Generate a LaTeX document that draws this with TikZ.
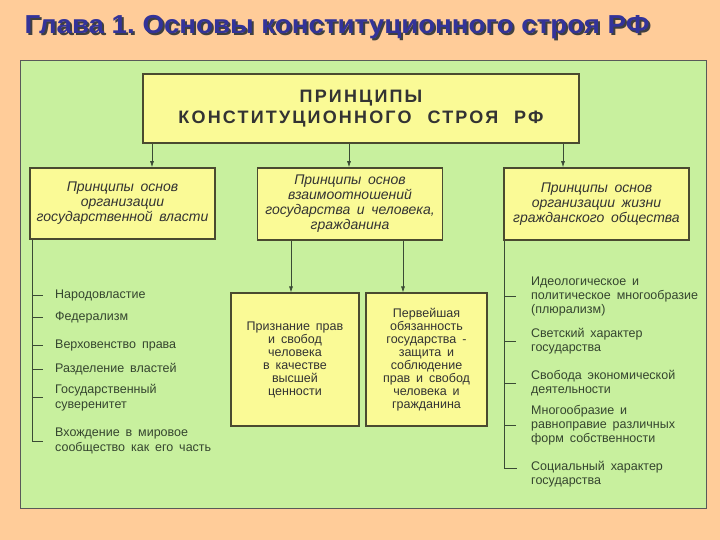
\documentclass[tikz,border=0pt]{standalone}
\usepackage{fontspec}
\setmainfont[WordSpace=1.7]{Liberation Sans}
\newfontfamily\titlefont{Liberation Sans}
\usetikzlibrary{arrows.meta}
\definecolor{peach}{HTML}{FFCC99}
\definecolor{panel}{HTML}{C8F09E}
\definecolor{boxfill}{HTML}{FAFA96}
\definecolor{boxline}{HTML}{4A4A30}
\definecolor{titleblue}{HTML}{333399}
\definecolor{txt}{HTML}{333333}
\definecolor{itemtxt}{HTML}{35452F}
\definecolor{linec}{HTML}{3A4A35}
\frenchspacing
\tikzset{
  topbox/.style={draw=boxline, fill=boxfill, line width=2.6pt, align=center, text=txt,
    font=\bfseries\fontsize{18}{21}\selectfont\addfontfeatures{LetterSpace=12}},
  midbox/.style={draw=boxline, fill=boxfill, line width=1.6pt, align=center, text=txt,
    font=\itshape\fontsize{14}{15}\selectfont},
  lowbox/.style={draw=boxline, fill=boxfill, line width=1.1pt, align=center, text=txt,
    font=\fontsize{12.5}{13}\selectfont},
  item/.style={anchor=west, align=left, text=itemtxt, inner sep=0pt,
    font=\fontsize{12.5}{14.5}\selectfont},
  ritem/.style={anchor=west, align=left, text=itemtxt, inner sep=0pt,
    font=\fontsize{12.5}{14}\selectfont},
  arr/.style={draw=linec, line width=0.7pt, -{Latex[length=6pt,width=4pt]}},
  vline/.style={draw=linec, line width=0.9pt},
  tick/.style={draw=linec, line width=0.9pt},
}
\newcommand{\titletxt}{\scalebox{1.065}[1]{\titlefont\bfseries\fontsize{26}{30}\selectfont Глава 1. Основы конституционного строя РФ}}
\begin{document}
\begin{tikzpicture}[x=1pt,y=-1pt]
\useasboundingbox (0,0) rectangle (720,540);
\fill[peach] (0,0) rectangle (720,540);
\draw[fill=panel, draw=black!65, line width=0.9pt] (20,60) rectangle (706,508);

% title
\node[anchor=base west, text=black!75, inner sep=0pt] (titleshadow) at (26.5,35.5) {\titletxt};
\node[anchor=base west, text=titleblue, inner sep=0pt] (title) at (24.5,33.5) {\titletxt};

% top box
\node[topbox, minimum width=436pt, minimum height=69pt] (top) at (361,108.5)
  {ПРИНЦИПЫ\\КОНСТИТУЦИОННОГО\hspace{16pt}СТРОЯ\hspace{16pt}РФ};

% second row
\node[midbox, minimum width=185pt, minimum height=71pt] (b1) at (122.5,203.5)
  {Принципы основ\\организации\\государственной власти};
\node[midbox, minimum width=185pt, minimum height=72pt] (b2) at (350,204)
  {Принципы основ\\взаимоотношений\\государства и человека,\\гражданина};
\node[midbox, minimum width=185pt, minimum height=72pt] (b3) at (596.5,204)
  {Принципы основ\\организации жизни\\гражданского общества};

% arrows from top
\coordinate (a1) at (152,0);
\coordinate (a2) at (349,0);
\coordinate (a3) at (563,0);
\draw[arr] (top.south -| a1) -- (b1.north -| a1);
\draw[arr] (top.south -| a2) -- (b2.north -| a2);
\draw[arr] (top.south -| a3) -- (b3.north -| a3);

% lower boxes
\node[lowbox, minimum width=128pt, minimum height=133pt] (c1) at (295,359.5)
  {Признание прав\\и свобод\\человека\\в качестве\\высшей\\ценности};
\node[lowbox, minimum width=121pt, minimum height=133pt] (c2) at (426.5,359.5)
  {Первейшая\\обязанность\\государства -\\защита и\\соблюдение\\прав и свобод\\человека и\\гражданина};
\coordinate (m1) at (291,0);
\coordinate (m2) at (403,0);
\draw[arr] (b2.south -| m1) -- (c1.north -| m1);
\draw[arr] (b2.south -| m2) -- (c2.north -| m2);

% left list
\coordinate (vl) at (32,0);
\node[item] (l1) at (55,295) {Народовластие};
\node[item] (l2) at (55,317) {Федерализм};
\node[item] (l3) at (55,345) {Верховенство права};
\node[item] (l4) at (55,369) {Разделение властей};
\node[item] (l5) at (55,397.5) {Государственный\\суверенитет};
\node[item] (l6) at (55,441) {Вхождение в мировое\\сообщество как его часть};
\draw[vline] (b1.south -| vl) |- ([xshift=-12pt]l6.west);
\foreach \n in {l1,l2,l3,l4,l5}
  \draw[tick] (\n.west -| vl) -- ++(11,0);

% right list
\coordinate (vr) at (504,0);
\node[ritem] (r1) at (531,296) {Идеологическое и\\политическое многообразие\\(плюрализм)};
\node[ritem] (r2) at (531,341.5) {Светский характер\\государства};
\node[ritem] (r3) at (531,383) {Свобода экономической\\деятельности};
\node[ritem] (r4) at (531,425) {Многообразие и\\равноправие различных\\форм собственности};
\node[ritem] (r5) at (531,474.5) {Социальный характер\\государства};
\draw[vline] (b3.south -| vr) |- ([xshift=-14pt,yshift=6pt]r5.west);
\foreach \n in {r1,r2,r3,r4}
  \draw[tick] (\n.west -| vr) -- ++(12,0);
\end{tikzpicture}
\end{document}
